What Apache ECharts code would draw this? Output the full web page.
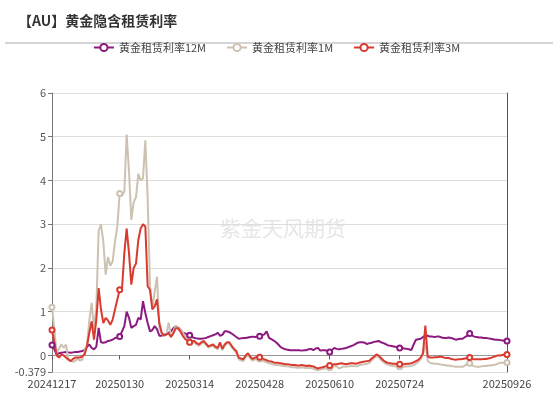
<!DOCTYPE html>
<html><head><meta charset="utf-8">
<script src="https://cdn.jsdelivr.net/npm/echarts@6/dist/echarts.min.js"></script>
<style>html,body{margin:0;padding:0;background:#fff}#c{width:553px;height:393px}</style>
</head><body><div id="c"></div>
<script>
// trading-day categories, listed by month (day numbers)
const days2412 = [17,18,19,20,23,24,27,30,31];
const days2501 = [2,3,6,7,8,9,10,13,14,15,16,17,20,21,22,23,24,27,28,29,30,31];
const days2502 = [3,4,5,6,7,10,11,12,13,14,18,19,20,21,24,25,26,27,28];
const days2503 = [3,4,5,6,7,10,11,12,13,14,17,18,19,20,21,24,25,26,27,28,31];
const days2504 = [1,2,3,4,7,8,9,10,11,14,15,16,17,21,22,23,24,25,28,29,30];
const days2505 = [1,2,5,6,7,8,9,12,13,14,15,16,19,20,21,22,23,27,28,29,30];
const days2506 = [2,3,4,5,6,9,10,11,12,13,16,17,18,20,23,24,25,26,27,30];
const days2507 = [1,2,3,7,8,9,10,11,14,15,16,17,18,21,22,23,24,25,28,29,30,31];
const days2508 = [1,4,5,6,7,8,11,12,13,14,15,18,19,20,21,22,25,26,27,28,29];
const days2509 = [1,2,3,4,5,8,9,10,11,12,15,16,17,18,19,22,23,24,25,26];
const monthDays = [['202412',days2412],['202501',days2501],['202502',days2502],['202503',days2503],['202504',days2504],['202505',days2505],['202506',days2506],['202507',days2507],['202508',days2508],['202509',days2509]];
const dates = [];
monthDays.forEach(([m, ds]) => ds.forEach(d => dates.push(m + (d < 10 ? '0' + d : '' + d))));

// dates carrying a marker; the tick labels shown; dates with a tick on the zero line
const labelDates = ['20241217','20250130','20250314','20250428','20250610','20250724','20250904','20250926'];
const shownLabels = ['20241217','20250130','20250314','20250428','20250610','20250724','20250926'];
const tickDates = ['20241217','20250130','20250314','20250428','20250610','20250724'];

const s12M = [0.24,0.14,0.02,0.05,0.06,0.07,0.08,0.07,0.06,0.07,0.08,0.08,0.09,0.10,0.12,0.20,0.25,0.17,0.14,0.20,
0.63,0.30,0.29,0.30,0.33,0.34,0.36,0.40,0.41,0.43,0.55,0.67,1.00,0.86,0.63,0.67,0.70,0.86,0.82,1.24,
0.97,0.74,0.55,0.58,0.67,0.60,0.45,0.45,0.48,0.48,0.52,0.55,0.62,0.67,0.63,0.60,0.52,0.50,0.48,0.46,
0.42,0.40,0.39,0.38,0.38,0.39,0.40,0.42,0.44,0.46,0.48,0.52,0.45,0.47,0.55,0.55,0.53,0.50,0.46,0.42,
0.38,0.39,0.40,0.40,0.41,0.42,0.43,0.42,0.43,0.44,0.46,0.48,0.55,0.40,0.37,0.34,0.30,0.25,0.19,0.16,
0.14,0.13,0.12,0.12,0.12,0.12,0.12,0.11,0.12,0.12,0.14,0.15,0.12,0.16,0.17,0.11,0.12,0.12,0.10,0.08,
0.13,0.17,0.15,0.14,0.15,0.16,0.17,0.19,0.21,0.23,0.26,0.29,0.30,0.30,0.29,0.26,0.28,0.29,0.31,0.32,
0.33,0.30,0.28,0.26,0.23,0.22,0.21,0.20,0.19,0.17,0.17,0.16,0.15,0.14,0.12,0.25,0.36,0.37,0.38,0.42,
0.46,0.45,0.43,0.43,0.42,0.43,0.43,0.41,0.40,0.40,0.41,0.40,0.38,0.36,0.37,0.38,0.38,0.42,0.45,0.50,
0.46,0.43,0.42,0.41,0.41,0.40,0.40,0.39,0.38,0.37,0.36,0.36,0.35,0.34,0.34,0.33];

const s1M = [1.10,0.60,0.05,0.15,0.25,0.18,0.25,-0.10,-0.12,-0.15,-0.12,-0.08,-0.12,-0.10,0.10,0.25,0.80,1.20,0.60,1.10,
2.85,3.00,2.60,1.85,2.25,2.05,2.15,2.60,2.95,3.70,3.65,3.75,5.05,4.20,3.10,3.50,3.62,4.15,4.00,4.05,
4.92,3.60,1.60,1.10,1.45,1.80,0.65,0.50,0.45,0.48,0.75,0.45,0.55,0.68,0.62,0.60,0.52,0.45,0.40,0.30,
0.28,0.30,0.25,0.22,0.27,0.30,0.24,0.18,0.20,0.22,0.17,0.14,0.27,0.12,0.22,0.27,0.27,0.19,0.12,0.06,
-0.09,-0.11,-0.13,-0.04,0.01,-0.07,-0.12,-0.09,-0.07,-0.08,-0.11,-0.14,-0.16,-0.18,-0.19,-0.21,-0.22,-0.22,-0.23,-0.24,
-0.25,-0.25,-0.26,-0.27,-0.27,-0.28,-0.28,-0.27,-0.28,-0.29,-0.28,-0.29,-0.30,-0.33,-0.34,-0.32,-0.31,-0.30,-0.29,-0.28,
-0.27,-0.25,-0.25,-0.30,-0.28,-0.25,-0.26,-0.25,-0.24,-0.24,-0.25,-0.24,-0.22,-0.21,-0.20,-0.19,-0.17,-0.11,-0.06,-0.02,
-0.04,-0.10,-0.15,-0.19,-0.21,-0.23,-0.24,-0.25,-0.25,-0.26,-0.26,-0.26,-0.25,-0.25,-0.24,-0.22,-0.19,-0.15,-0.08,0.02,
0.30,-0.12,-0.17,-0.18,-0.19,-0.19,-0.20,-0.21,-0.22,-0.23,-0.23,-0.24,-0.25,-0.26,-0.26,-0.26,-0.26,-0.23,-0.20,-0.18,
-0.22,-0.25,-0.26,-0.26,-0.25,-0.24,-0.24,-0.23,-0.23,-0.22,-0.21,-0.19,-0.17,-0.17,-0.16,-0.16];

const s3M = [0.58,0.30,0.00,-0.05,0.02,0.00,-0.05,-0.09,-0.13,-0.08,-0.05,-0.05,-0.05,-0.02,0.02,0.21,0.52,0.78,0.36,0.82,
1.54,1.05,0.74,0.86,0.80,0.70,0.82,1.05,1.28,1.50,1.52,2.34,2.90,2.34,1.62,2.00,2.10,2.64,2.90,3.00,
2.95,1.58,1.50,1.05,1.12,1.28,0.74,0.52,0.45,0.48,0.50,0.42,0.50,0.62,0.62,0.55,0.45,0.38,0.33,0.30,
0.33,0.33,0.28,0.25,0.30,0.33,0.27,0.21,0.23,0.25,0.20,0.17,0.30,0.15,0.25,0.30,0.30,0.22,0.15,0.10,
-0.05,-0.07,-0.09,0.00,0.05,-0.03,-0.08,-0.05,-0.03,-0.04,-0.07,-0.09,-0.11,-0.13,-0.14,-0.16,-0.17,-0.17,-0.18,-0.19,
-0.20,-0.20,-0.21,-0.22,-0.22,-0.23,-0.23,-0.22,-0.23,-0.24,-0.23,-0.24,-0.25,-0.28,-0.30,-0.28,-0.27,-0.25,-0.24,-0.23,
-0.22,-0.20,-0.20,-0.19,-0.18,-0.19,-0.20,-0.19,-0.18,-0.18,-0.19,-0.18,-0.16,-0.15,-0.14,-0.13,-0.12,-0.07,-0.03,0.02,
0.00,-0.06,-0.11,-0.15,-0.17,-0.18,-0.19,-0.19,-0.20,-0.20,-0.20,-0.20,-0.19,-0.19,-0.18,-0.16,-0.13,-0.10,-0.05,0.05,
0.68,-0.02,-0.05,-0.05,-0.04,-0.04,-0.03,-0.03,-0.05,-0.06,-0.06,-0.08,-0.09,-0.10,-0.09,-0.09,-0.08,-0.07,-0.06,-0.05,
-0.08,-0.09,-0.09,-0.09,-0.09,-0.08,-0.08,-0.07,-0.06,-0.04,-0.02,0.00,0.00,0.01,0.02,0.02];

const yMin = -0.379, yMax = 6;

const chart = echarts.init(document.getElementById('c'), null, {renderer: 'canvas'});
const FONT = '"Noto Sans CJK SC", "Noto Sans", sans-serif';
function mkSeries(name, data, color) {
  return {
    name, type: 'line', data, xAxisIndex: 0, showSymbol: true, symbol: 'emptyCircle', symbolSize: 5,
    lineStyle: {width: 2, color}, itemStyle: {color, borderWidth: 1}, z: 2
  };
}
chart.setOption({
  animation: false,
  textStyle: {fontFamily: FONT},
  title: {text: '【AU】黄金隐含租赁利率', left: 13, top: 9,
    textStyle: {fontSize: 14, fontWeight: 'bold', color: '#333', fontFamily: FONT}},
  graphic: [
    {type: 'line', shape: {x1: 5, y1: 43, x2: 553, y2: 43}, style: {stroke: '#aaa', lineWidth: 1}},
    {type: 'text', left: 220, top: 218, z: 0, style: {text: '紫金天风期货', fontSize: 21, fill: '#e6e6e6', fontFamily: FONT}}
  ],
  legend: {top: 37, left: 'center', itemWidth: 20, itemHeight: 9, itemGap: 20,
    textStyle: {fontSize: 11, color: '#444', fontFamily: FONT},
    data: ['黄金租赁利率12M', '黄金租赁利率1M', '黄金租赁利率3M']},
  grid: {left: 52, right: 46, top: 93, bottom: 21, containLabel: false, outerBoundsMode: 'none'},
  xAxis: [{
    type: 'category', data: dates, boundaryGap: false, position: 'bottom',
    axisLine: {show: false, onZero: false},
    axisTick: {show: false},
    axisLabel: {margin: 6, fontSize: 11, color: '#444', showMinLabel: true, showMaxLabel: true,
      interval: (i, v) => labelDates.includes(v),
      formatter: v => shownLabels.includes(v) ? v : ''},
    splitLine: {show: false}
  }, {
    type: 'category', data: dates, boundaryGap: false, position: 'bottom',
    axisLine: {show: true, onZero: true, lineStyle: {color: '#999', width: 1}},
    axisTick: {show: true, length: 4, lineStyle: {color: '#555'}, interval: 'auto'},
    axisLabel: {show: true, formatter: () => '', interval: (i, v) => tickDates.includes(v)},
    splitLine: {show: false}
  }],
  yAxis: [{
    type: 'value', min: yMin, max: yMax, splitNumber: 6,
    axisLine: {show: true, onZero: false, lineStyle: {color: '#777'}},
    axisTick: {show: true, length: 4, lineStyle: {color: '#777'}},
    axisLabel: {fontSize: 11, color: '#555', margin: 6},
    splitLine: {lineStyle: {color: '#ddd'}}
  }, {
    type: 'value', min: yMin, max: yMax, position: 'right',
    axisLine: {show: true, onZero: false, lineStyle: {color: '#555'}},
    axisTick: {show: false}, axisLabel: {show: false}, splitLine: {show: false}
  }],
  series: [
    mkSeries('黄金租赁利率12M', s12M, '#8c1a80'),
    mkSeries('黄金租赁利率1M', s1M, '#cdc2b2'),
    mkSeries('黄金租赁利率3M', s3M, '#d93a30')
  ]
});
</script></body></html>
